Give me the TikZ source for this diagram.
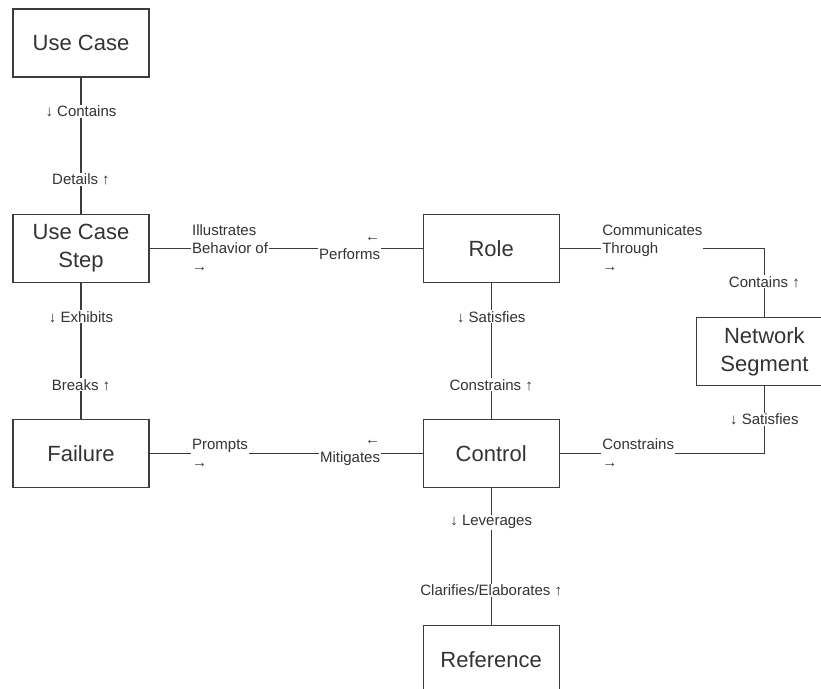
\documentclass[tikz,border=0pt]{standalone}
\usepackage{fontspec}
\setmainfont{Liberation Sans}
\usepackage{xcolor}
\usetikzlibrary{positioning}
\definecolor{boxgray}{HTML}{3C3C3C}
\definecolor{textgray}{HTML}{333333}

\begin{document}
\begin{tikzpicture}[x=1pt, y=1pt]
    % Block styles
    \tikzstyle{block} = [rectangle, draw=boxgray, line width=1.2pt, text=textgray, align=center, minimum width=136pt, minimum height=68pt, font=\fontsize{22}{28}\selectfont]
    \tikzstyle{lbl} = [fill=white, text=textgray, inner xsep=1pt, inner ysep=1pt, font=\fontsize{15}{18}\selectfont]
    \tikzstyle{link} = [draw=boxgray, line width=1.2pt]
    \useasboundingbox (0,0) rectangle (821,-688);
    % Entities
    \node[block] (usecase) at (81,-43) {Use Case};
    \node[block, below=136pt of usecase] (step) {Use Case\\Step};
    \node[block, below=136pt of step] (failure) {Failure};
    \node[block, right=273pt of step] (role) {Role};
    \node[block, below=136pt of role] (control) {Control};
    \node[block, below=137pt of control] (reference) {Reference};
    \node[block, below right=34pt and 136pt of role] (netseg) {Network\\Segment};
    % Connections
    \draw[link] (usecase) -- (step)
        node[lbl, pos=0.25] {↓ Contains}
        node[lbl, pos=0.75] {Details ↑};
    \draw[link] (step) -- (failure)
        node[lbl, pos=0.25] {↓ Exhibits}
        node[lbl, pos=0.75] {Breaks ↑};
    \draw[link] (role) -- (control)
        node[lbl, pos=0.25] {↓ Satisfies}
        node[lbl, pos=0.75] {Constrains ↑};
    \draw[link] (control) -- (reference)
        node[lbl, pos=0.25] {↓ Leverages}
        node[lbl, pos=0.75] {Clarifies/Elaborates ↑};
    \draw[link] (step) -- (role)
        node[lbl, pos=0.15, anchor=west, align=left] {Illustrates\\Behavior of\\→}
        node[lbl, pos=0.85, anchor=east, align=right] {←\\Performs};
    \draw[link] (failure) -- (control)
        node[lbl, pos=0.15, anchor=west, align=left] {Prompts\\→}
        node[lbl, pos=0.85, anchor=east, align=right] {←\\Mitigates};
    % Links to the network segment
    \draw[link] (role) -| (netseg)
        node[lbl, pos=0.1, anchor=west, align=left] {Communicates\\Through\\→}
        node[lbl, pos=0.745] {Contains ↑};
    \draw[link] (control) -| (netseg)
        node[lbl, pos=0.1, anchor=west, align=left] {Constrains\\→}
        node[lbl, pos=0.75] {↓ Satisfies};
\end{tikzpicture}
\end{document}
